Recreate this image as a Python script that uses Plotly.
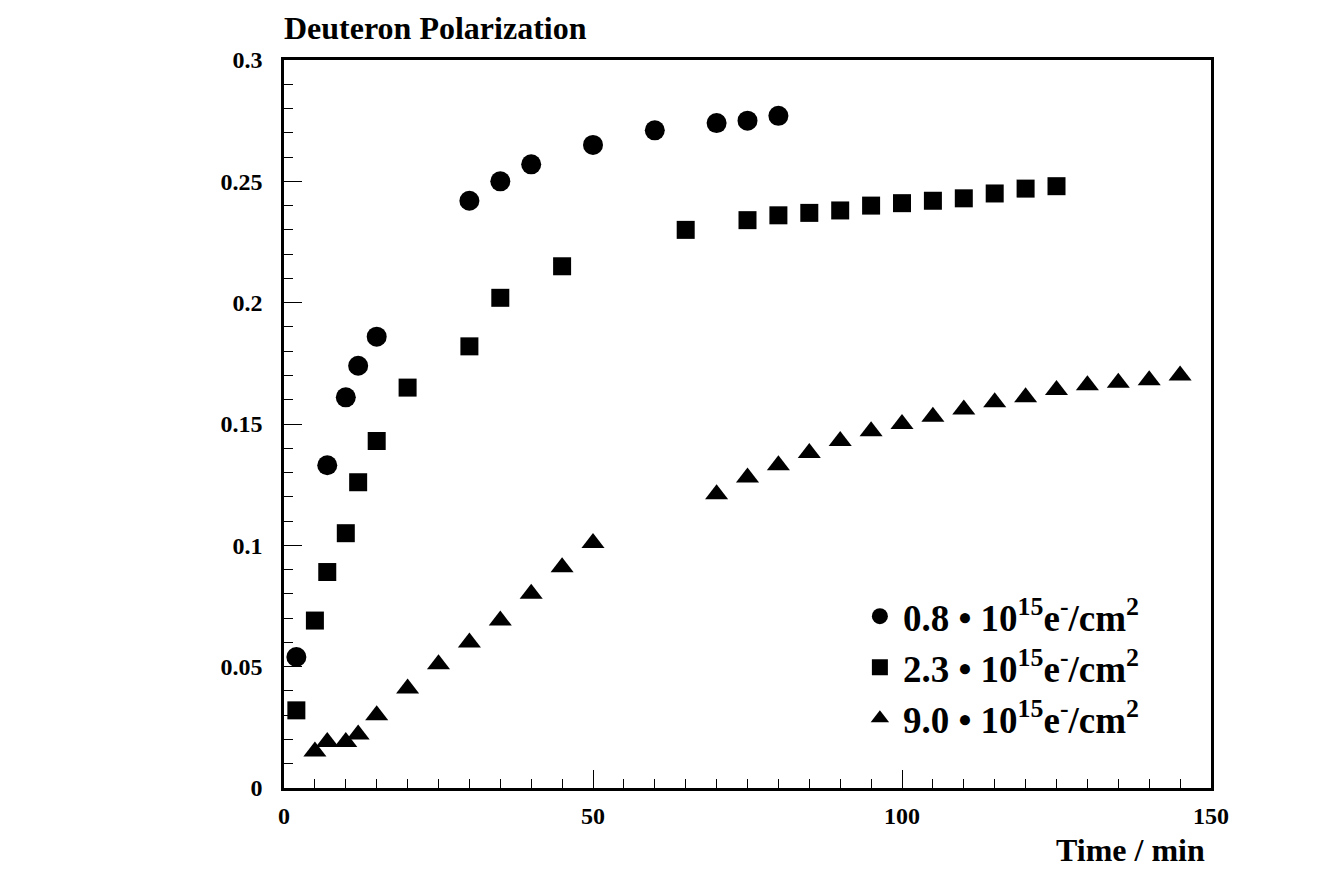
import plotly.graph_objects as go

time_c = [2, 7, 10, 12, 15, 30, 35, 40, 50, 60, 70, 75, 80]
pol_c = [0.054, 0.133, 0.161, 0.174, 0.186, 0.242, 0.250, 0.257, 0.265, 0.271, 0.274, 0.275, 0.277]

time_s = [2, 5, 7, 10, 12, 15, 20, 30, 35, 45, 65, 75, 80, 85, 90, 95, 100, 105, 110, 115, 120, 125]
pol_s = [0.032, 0.069, 0.089, 0.105, 0.126, 0.143, 0.165, 0.182, 0.202, 0.215, 0.230, 0.234, 0.236,
         0.237, 0.238, 0.240, 0.241, 0.242, 0.243, 0.245, 0.247, 0.248]

time_t = [5, 7, 10, 12, 15, 20, 25, 30, 35, 40, 45, 50, 70, 75, 80, 85, 90, 95, 100, 105, 110,
          115, 120, 125, 130, 135, 140, 145]
pol_t = [0.015, 0.019, 0.019, 0.022, 0.030, 0.041, 0.051, 0.060, 0.069, 0.080, 0.091, 0.101, 0.121,
         0.128, 0.133, 0.138, 0.143, 0.147, 0.150, 0.153, 0.156, 0.159, 0.161, 0.164, 0.166,
         0.167, 0.168, 0.170]

names = ["<b>0.8 • 10<sup>15</sup>e<sup>-</sup>/cm<sup>2</sup></b>",
         "<b>2.3 • 10<sup>15</sup>e<sup>-</sup>/cm<sup>2</sup></b>",
         "<b>9.0 • 10<sup>15</sup>e<sup>-</sup>/cm<sup>2</sup></b>"]

x_ticks = [0, 50, 100, 150]
x_ticklabels = ["0", "50", "100", "150"]
y_ticks = [0, 0.05, 0.1, 0.15, 0.2, 0.25, 0.3]
y_ticklabels = ["0", "0.05", "0.1", "0.15", "0.2", "0.25", "0.3"]

FONT = "Liberation Serif"

fig = go.Figure()
fig.add_trace(go.Scatter(x=time_c, y=pol_c, mode="markers", name=names[0],
                         marker=dict(symbol="circle", size=20, color="black")))
fig.add_trace(go.Scatter(x=time_s, y=pol_s, mode="markers", name=names[1],
                         marker=dict(symbol="square", size=18, color="black")))
fig.add_trace(go.Scatter(x=time_t, y=pol_t, mode="markers", name=names[2],
                         marker=dict(symbol="triangle-up", size=20, color="black")))

axis_common = dict(showgrid=False, zeroline=False, showline=True, linecolor="black",
                   linewidth=2.5, mirror=True, ticks="inside", tickcolor="black",
                   tickwidth=1.2, ticklen=18,
                   tickfont=dict(family=FONT, size=24, color="black"))

fig.update_xaxes(range=[0, 150], tickvals=x_ticks,
                 ticktext=["<b>%s</b>" % t for t in x_ticklabels],
                 minor=dict(dtick=5, ticks="inside", ticklen=9, tickcolor="black", tickwidth=1.2),
                 ticklabelstandoff=4, **axis_common)
fig.update_yaxes(range=[0, 0.3], tickvals=y_ticks,
                 ticktext=["<b>%s</b>" % t for t in y_ticklabels],
                 minor=dict(dtick=0.01, tick0=0, ticks="inside", ticklen=9, tickcolor="black", tickwidth=1.2),
                 ticklabelstandoff=14, **axis_common)

fig.update_layout(
    width=1317, height=870,
    margin=dict(l=284, r=106, t=60, b=82),
    paper_bgcolor="white", plot_bgcolor="white",
    font=dict(family=FONT, color="black"),
    legend=dict(x=0.618, y=0.278, xanchor="left", yanchor="top",
                font=dict(family=FONT, size=37, color="black"),
                bgcolor="rgba(0,0,0,0)", itemsizing="trace", tracegroupgap=0,
                itemwidth=36),
    annotations=[
        dict(text="<b>Deuteron Polarization</b>", xref="paper", yref="paper", x=0, y=1,
             xanchor="left", yanchor="bottom", yshift=12, xshift=-2, showarrow=False,
             font=dict(family=FONT, size=32, color="black")),
        dict(text="<b>Time / min</b>", xref="paper", yref="paper", x=1, y=0,
             xanchor="right", yanchor="top", yshift=-42, xshift=-4, showarrow=False,
             font=dict(family=FONT, size=32, color="black")),
    ],
)

fig.write_html("out.html")
